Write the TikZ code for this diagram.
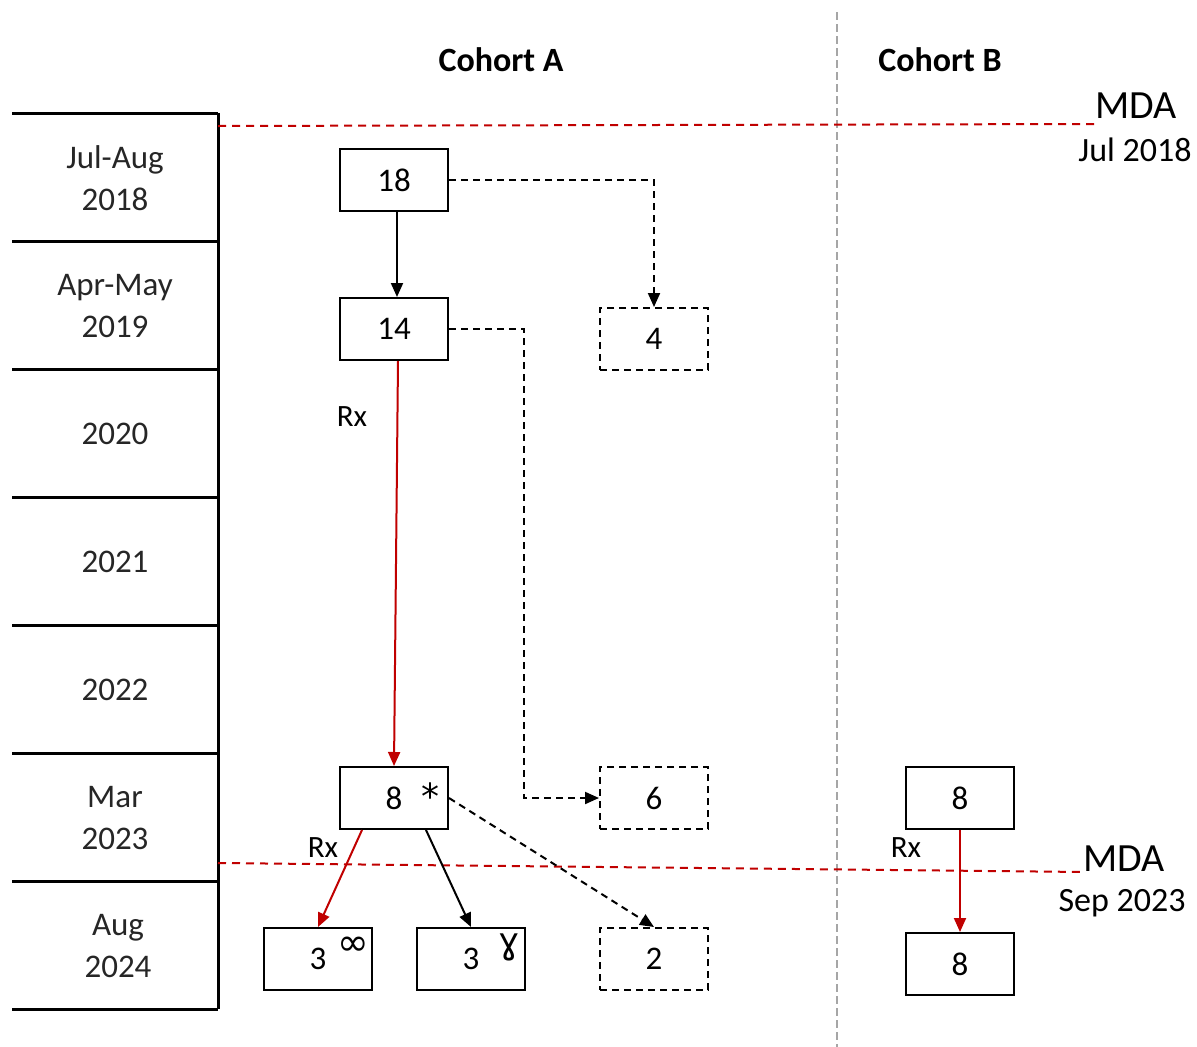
\documentclass[tikz,border=0pt]{standalone}
\usepackage{fontspec}
\setmainfont{Carlito}
\newfontfamily\djv{DejaVu Sans}
\usetikzlibrary{arrows.meta}
\definecolor{mdared}{HTML}{C00000}
\definecolor{sepgray}{HTML}{A6A6A6}
\tikzset{
  box/.style={draw=black,line width=2pt,minimum width=108pt,minimum height=62pt,inner sep=0pt,font=\fontsize{33}{38}\selectfont},
  dbox/.style={box,dash pattern=on 7pt off 5pt},
  yearlbl/.style={align=center,text=black!85,font=\fontsize{33}{42}\selectfont},
  title/.style={font=\fontsize{34}{40}\selectfont\bfseries},
  tbl/.style={line width=3pt},
  arr/.style={line width=2pt,-{Triangle[length=14pt,width=12pt]}},
  redarr/.style={arr,draw=mdared,-{Triangle[length=14pt,width=12pt,fill=mdared]}},
  darr/.style={arr,dash pattern=on 7pt off 5pt},
  mdaline/.style={draw=mdared,line width=2pt,dash pattern=on 8pt off 6pt},
  mdalbl/.style={font=\fontsize{40}{44}\selectfont,inner sep=0pt},
  mdadate/.style={font=\fontsize{34}{40}\selectfont,inner sep=0pt},
  rxlbl/.style={font=\fontsize{31}{36}\selectfont,inner sep=0pt},
  supsym/.style={inner sep=0pt}
}
\begin{document}
\begin{tikzpicture}[x=1pt,y=-1pt]
\useasboundingbox (0,0) rectangle (1197,1047);
% separator
\draw[sepgray,line width=2pt,dash pattern=on 8pt off 4pt] (837,12) -- (837,1047);
% table
\foreach \yy in {113,241,369,497,625,753,881,1009} \draw[tbl] (12,\yy) -- (218,\yy);
\draw[tbl] (218,113) -- (218,1009);
\node[yearlbl] (y1) at (115,178) {Jul-Aug\\2018};
\node[yearlbl] (y2) at (115,306) {Apr-May\\2019};
\node[yearlbl] (y3) at (115,434) {2020};
\node[yearlbl] (y4) at (115,562) {2021};
\node[yearlbl] (y5) at (115,690) {2022};
\node[yearlbl] (y6) at (115,818) {Mar\\2023};
\node[yearlbl] (y7) at (118,946) {Aug\\2024};
% titles
\node[title] (ca) at (501,60) {Cohort A};
\node[title] (cb) at (940,60) {Cohort B};
% MDA lines
\node[mdalbl,anchor=base west] (mda1) at (1095,118) {MDA};
\node[mdadate] (d1) at (1135,150) {Jul 2018};
\coordinate (m1s) at (218,126);
\coordinate (m1e) at (1095,124);
\draw[mdaline] (m1s) -- (m1e);
\node[mdalbl,anchor=base west] (mda2) at (1083,871) {MDA};
\node[mdadate] (d2) at (1122,903) {Sep 2023};
\coordinate (m2s) at (218,863);
\coordinate (m2e) at (1085,872);
\draw[mdaline] (m2s) -- (m2e);
% boxes cohort A
\node[box] (b18) at (394,180) {18};
\node[box] (b14) at (394,329) {14};
\node[dbox] (b4) at (654,339) {4};
\node[box] (b8) at (394,798) {8};
\node[supsym,font=\djv\fontsize{36}{40}\selectfont] (ast) at (430,796) {*};
\node[dbox] (b6) at (654,798) {6};
\node[box] (b3a) at (318,959) {3};
\node[supsym,font=\djv\fontsize{38}{42}\selectfont] (inf) at (353,946) {∞};
\node[supsym,font=\djv\fontsize{36}{40}\selectfont] (gam) at (509,947) {ɣ};
\node[box] (b3b) at (471,959) {3};
\node[dbox] (b2) at (654,959) {2};
% cohort B
\node[box] (c8a) at (960,798) {8};
\node[box] (c8b) at (960,964) {8};
% connectors
\draw[arr] ([xshift=3pt]b18.south) -- ([xshift=3pt]b14.north);
\draw[darr] (b18.east) -| (b4.north);
\draw[darr] (b14.east) -- (524,329) |- (b6.west);
\draw[redarr] ([xshift=4pt]b14.south) -- (b8.north);
\draw[redarr] ([xshift=-32pt]b8.south) -- (b3a.north);
\draw[arr] ([xshift=32pt]b8.south) -- (b3b.north);
\draw[darr] (b8.east) -- (b2.north);
\draw[redarr] (c8a.south) -- (c8b.north);
% Rx labels
\node[rxlbl] (rx1) at (352,417) {Rx};
\node[rxlbl] (rx2) at (323,848) {Rx};
\node[rxlbl] (rx3) at (906,848) {Rx};
\end{tikzpicture}
\end{document}
